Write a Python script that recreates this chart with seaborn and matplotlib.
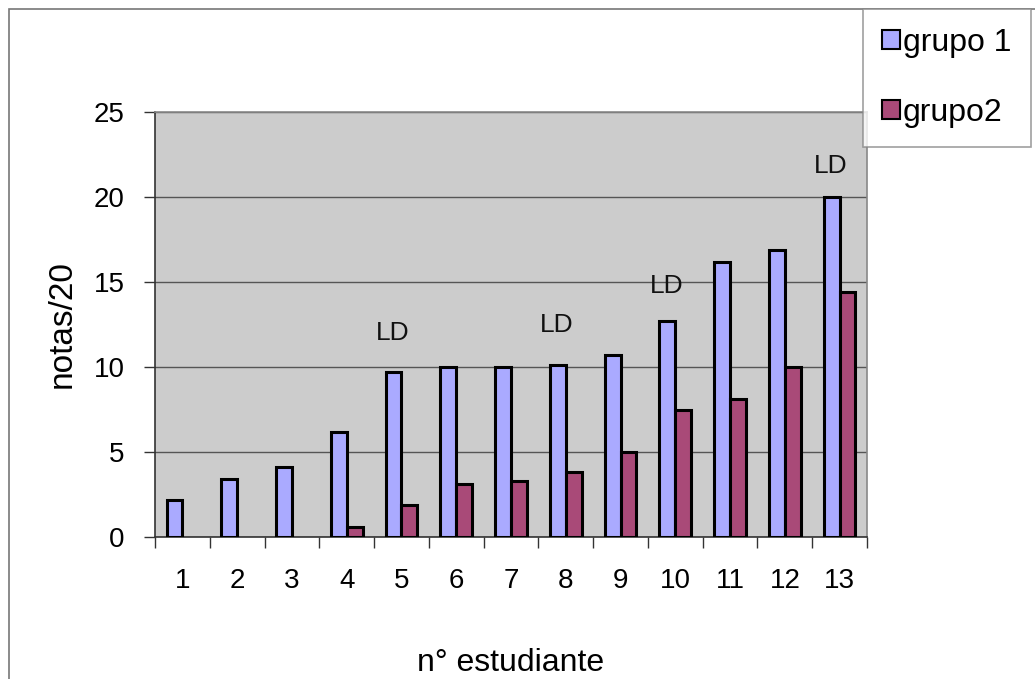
import matplotlib
matplotlib.use("Agg")
import matplotlib.pyplot as plt
import seaborn as sns
import pandas as pd
import numpy as np
from matplotlib.patches import Rectangle

students = [str(i) for i in range(1, 14)]
grupo1 = [2.2, 3.4, 4.1, 6.2, 9.7, 10.0, 10.0, 10.1, 10.7, 12.7, 16.2, 16.9, 20.0]
grupo2 = [0.0, 0.0, 0.0, 0.6, 1.9, 3.1, 3.3, 3.8, 5.0, 7.5, 8.1, 10.0, 14.4]
series_names = ["grupo 1", "grupo2"]
ld_students = ["5", "8", "10", "13"]
ld_heights = [12.0, 12.45, 14.75, 21.8]
y_ticks = [0, 5, 10, 15, 20, 25]

df = pd.DataFrame({
    "estudiante": students * 2,
    "nota": grupo1 + grupo2,
    "grupo": [series_names[0]] * len(students) + [series_names[1]] * len(students),
})

sns.set_style("white")
plt.rcParams["font.family"] = ["Liberation Sans", "DejaVu Sans"]
plt.rcParams["text.color"] = "black"
plt.rcParams["axes.labelcolor"] = "black"
plt.rcParams["xtick.color"] = "black"
plt.rcParams["ytick.color"] = "black"

W, H = 1035, 679
fig = plt.figure(figsize=(W / 100, H / 100), dpi=100)
ax = fig.add_axes([155 / W, (H - 537) / H, 712 / W, 425 / H])

colors = ["#aaaaff", "#a94a78"]
sns.barplot(data=df, x="estudiante", y="nota", hue="grupo", order=students,
            hue_order=series_names, palette=colors, saturation=1, width=0.58, gap=0,
            edgecolor="black", linewidth=2.2, ax=ax, zorder=3, legend=True)

# hide zero-height bars (no visible outline in the original)
for cont in ax.containers:
    for p in cont:
        if p.get_height() == 0:
            p.set_visible(False)

ax.set_facecolor("#cccccc")
ax.set_ylim(0, 25)
ax.set_xlim(-0.5, len(students) - 0.5)
ax.set_yticks(y_ticks)
ax.set_yticklabels([str(t) for t in y_ticks])
ax.yaxis.grid(True, color="#555555", linewidth=1.0, zorder=1)
ax.set_axisbelow(True)

ax.set_xticks(range(len(students)))
ax.set_xticklabels(students)
ax.tick_params(axis="x", which="major", length=0, pad=22, labelsize=20, labelcolor="black")
ax.set_xticks(np.arange(-0.5, len(students), 1.0), minor=True)
ax.tick_params(axis="x", which="minor", length=8, width=1, color="#333333", direction="out")
ax.tick_params(axis="y", length=8, width=1, color="#333333", direction="out", pad=14,
               labelsize=20, labelcolor="black")
ax.tick_params(left=True, bottom=True)
ax.xaxis.set_ticks_position("bottom")

for s in ["left", "bottom"]:
    ax.spines[s].set_color("#333333")
    ax.spines[s].set_linewidth(1.2)
for s in ["top", "right"]:
    ax.spines[s].set_color("#888888")
    ax.spines[s].set_linewidth(1.2)
    ax.spines[s].set_visible(True)

ax.set_xlabel("n° estudiante", fontsize=23, labelpad=39, color="black")
ax.set_ylabel("notas/20", fontsize=24, labelpad=11, color="black")

for st, h in zip(ld_students, ld_heights):
    xi = students.index(st) - 0.16
    ax.text(xi, h, "LD", ha="center", va="center", fontsize=19, color="#111111")

handles, labels = ax.get_legend_handles_labels()
ax.legend_.remove()
leg = fig.legend(handles, labels, loc="upper left",
                 bbox_to_anchor=(863 / W, 1 - 9 / H), fontsize=23,
                 frameon=True, fancybox=False, edgecolor="#888888",
                 handlelength=0.55, handleheight=0.55, handletextpad=0.1,
                 labelspacing=1.25, borderpad=0.6, borderaxespad=0)
leg.get_frame().set_linewidth(1.2)
for p in leg.get_patches():
    p.set_visible(True)
    p.set_edgecolor("black")
    p.set_linewidth(1.5)
for t in leg.get_texts():
    t.set_color("black")

fig.patches.append(Rectangle((9 / W, -0.05), 1.2, 1 - 9 / H + 0.05,
                             transform=fig.transFigure, fill=False,
                             edgecolor="#777777", linewidth=1.2, zorder=0))

fig.savefig("out.png", dpi=100)
